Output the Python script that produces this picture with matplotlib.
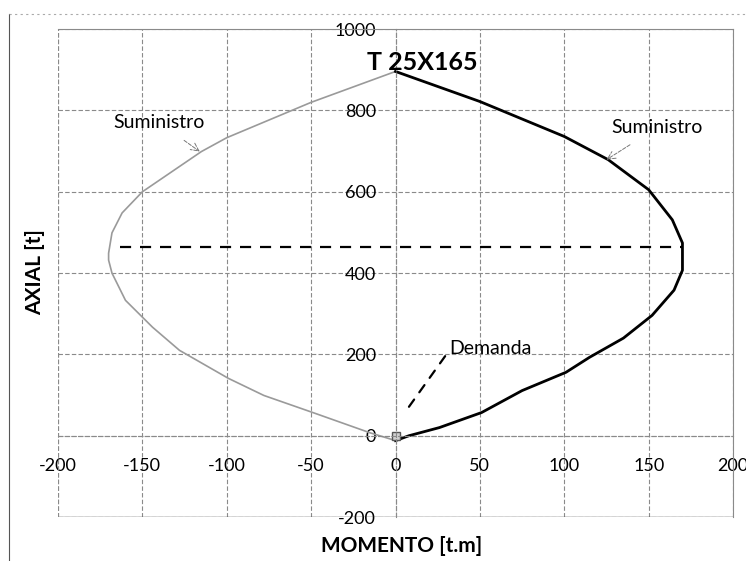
import matplotlib.pyplot as plt
from matplotlib.lines import Line2D

# Interaction diagram (moment t.m, axial t)
right_m = [0, 50, 100, 126, 150, 164, 170, 170, 170, 165, 152, 135, 115, 101, 75, 51, 26, 8, 0]
right_p = [896, 822, 736, 679, 605, 531, 474, 432, 407, 358, 296, 240, 193, 156, 111, 57, 20, 0, -12]
left_m = [0, -50, -100, -115, -150, -162, -168, -170, -170, -168, -160, -144, -128, -99, -78, -49, -15, 0]
left_p = [896, 820, 733, 699, 600, 548, 499, 449, 432, 400, 333, 267, 210, 141, 99, 57, 7, -12]
bal_m = [-163, 170]
bal_p = [465, 465]
dem_m = [0]
dem_p = [0]

x_ticks = [-200, -150, -100, -50, 0, 50, 100, 150, 200]
y_ticks = [-200, 0, 200, 400, 600, 800, 1000]

plt.rcParams['font.family'] = ['Lato', 'DejaVu Sans']
plt.rcParams['axes.unicode_minus'] = False

fig = plt.figure(figsize=(7.46, 5.61), dpi=100)
ax = fig.add_axes([0.0777, 0.0784, 0.905, 0.8696])

ax.grid(True, color='#8a8a8a', lw=0.8, ls=(0, (4, 2)))
ax.set_axisbelow(True)

ax.plot(left_m, left_p, color='#9a9a9a', lw=1.2)
ax.plot(right_m, right_p, color='black', lw=2.0)
ax.plot(bal_m, bal_p, color='black', lw=1.6, ls=(0, (5, 4)))
ax.plot(dem_m, dem_p, 's', ms=6, mfc='#d0d0d0', mec='#555555')

ax.set_xlim(-200, 200)
ax.set_ylim(-200, 1000)
ax.set_xticks(x_ticks)
ax.set_yticks(y_ticks)

for side in ['left', 'bottom']:
    ax.spines[side].set_position(('data', 0))
    ax.spines[side].set_color('#8a8a8a')
    ax.spines[side].set_linestyle((0, (4, 2)))
    ax.spines[side].set_linewidth(0.8)
for side in ['top', 'right']:
    ax.spines[side].set_color('#8a8a8a')
    ax.spines[side].set_linewidth(0.8)
ax.axhline(-200, color='#444444', lw=1.0)
ax.axvline(-200, color='#8a8a8a', lw=0.8, ls=(0, (4, 2)))

ax.tick_params(axis='both', length=0, labelsize=13)
ax.tick_params(axis='x', pad=16)
ax.tick_params(axis='y', pad=14)

ax.text(16, 918, 'T 25X165', fontsize=18, fontweight='bold', ha='center', va='center')

ax.annotate('Suministro', xy=(-116, 699), xytext=(-140, 770), fontsize=14,
            ha='center', va='center',
            arrowprops=dict(arrowstyle='->', color='#777777', lw=0.7, ls='--',
                            shrinkA=8, shrinkB=0))
ax.annotate('Suministro', xy=(125, 679), xytext=(155, 758), fontsize=14,
            ha='center', va='center',
            arrowprops=dict(arrowstyle='->', color='#777777', lw=0.7, ls='--',
                            shrinkA=8, shrinkB=0))
ax.annotate('Demanda', xy=(5, 54), xytext=(32, 215), fontsize=14,
            ha='left', va='center',
            arrowprops=dict(arrowstyle='-', color='black', lw=1.6,
                            ls=(0, (4, 4)), shrinkA=2, shrinkB=0,
                            relpos=(0, 0.4)))

fig.text(0.538, 0.027, 'MOMENTO [t.m]', fontsize=15, fontweight='bold',
         ha='center', va='center')
fig.text(0.047, 0.515, 'AXIAL [t]', fontsize=15, fontweight='bold',
         ha='center', va='center', rotation=90)

# outer chart border (left and top edges visible on the scan)
fig.add_artist(Line2D([0.012, 0.012], [0.0, 0.975], color='#555555', lw=0.8,
                      transform=fig.transFigure))
fig.add_artist(Line2D([0.012, 1.0], [0.975, 0.975], color='#aaaaaa', lw=0.8,
                      ls=(0, (2, 3)), transform=fig.transFigure))

fig.savefig('out.png', dpi=100)
